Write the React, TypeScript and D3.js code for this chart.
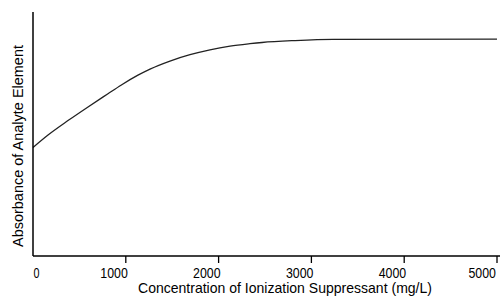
import React from "react";
import * as d3 from "d3";

const concentration = [0, 162, 377, 593, 808, 948, 1131, 1261, 1476, 1692, 1907, 2123, 2338, 2468, 2823, 3233, 5000];
const absorbance = [44.5, 49.6, 55.5, 61.1, 66.5, 70.0, 74.1, 76.6, 79.9, 82.5, 84.5, 86.0, 87.0, 87.5, 88.3, 88.8, 88.9];
const xTicks = [0, 1000, 2000, 3000, 4000, 5000];
const xTitle = "Concentration of Ionization Suppressant (mg/L)";
const yTitle = "Absorbance of Analyte Element";

export default function App() {
  const W = 500, H = 296;
  const x = d3.scaleLinear().domain([0, 5000]).range([33, 497]);
  const y = d3.scaleLinear().domain([0, 100]).range([256, 12]);
  const pts: [number, number][] = concentration.map((c, i) => [c, absorbance[i]]);
  const line = d3.line<[number, number]>().x(d => x(d[0])).y(d => y(d[1])).curve(d3.curveMonotoneX);
  const font = "'Liberation Sans', Arial, sans-serif";
  return (
    <svg width={W} height={H} style={{ position: "absolute", left: 0, top: 0, background: "#fff" }}>
      <path d={line(pts) || ""} fill="none" stroke="#222" strokeWidth={1.3} />
      <line x1={x(0)} x2={W} y1={y(0)} y2={y(0)} stroke="#000" strokeWidth={1.5} />
      <line x1={x(0)} x2={x(0)} y1={y(100)} y2={y(0)} stroke="#000" strokeWidth={1.5} />
      {xTicks.map(t => (
        <g key={t}>
          {t !== 0 && <line x1={x(t)} x2={x(t)} y1={y(0)} y2={y(0) + 7} stroke="#000" strokeWidth={1.3} />}
          <text
            x={t === 0 ? x(t) + 0.5 : Math.min(x(t) + 2, W - 4)}
            y={277.5}
            textAnchor={t === 0 ? "start" : "end"}
            fontFamily={font}
            fontSize={14}
            textLength={t === 0 ? 6 : 27.5}
            lengthAdjust="spacingAndGlyphs"
            fill="#000"
          >{t}</text>
        </g>
      ))}
      <text x={285} y={292.5} textAnchor="middle" fontFamily={font} fontSize={14.5}
        textLength={294} lengthAdjust="spacingAndGlyphs" fill="#000">{xTitle}</text>
      <text transform="translate(22.5,146) rotate(-90)" textAnchor="middle" fontFamily={font} fontSize={14.5}
        textLength={202} lengthAdjust="spacingAndGlyphs" fill="#000">{yTitle}</text>
    </svg>
  );
}
